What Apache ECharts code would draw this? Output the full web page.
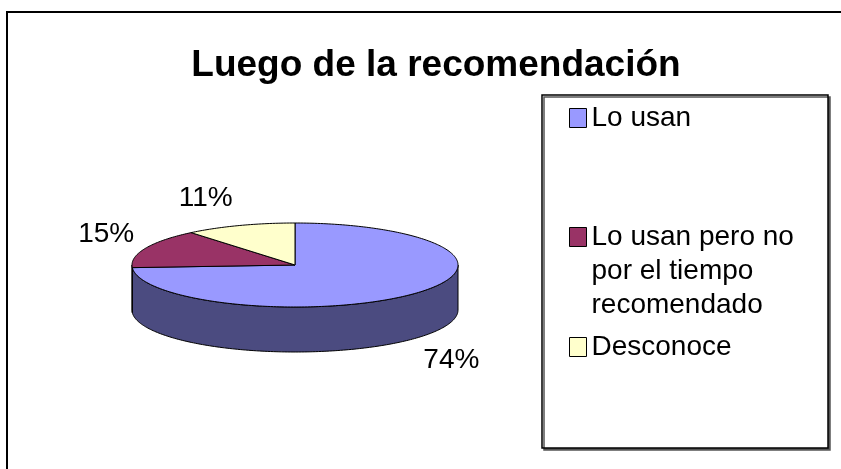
<!DOCTYPE html>
<html>
<head>
<meta charset="utf-8">
<script src="https://cdn.jsdelivr.net/npm/echarts@6/dist/echarts.min.js"></script>
<style>
  html, body { margin: 0; padding: 0; background: #fff; }
  #chart { width: 841px; height: 469px; }
</style>
</head>
<body>
<div id="chart"></div>
<script>
// Survey answers after the recommendation (percent of respondents)
const categories = ['Lo usan', 'Lo usan pero no por el tiempo recomendado', 'Desconoce'];
const shares = [74, 15, 11];
const topColors = ['#9999FF', '#993366', '#FFFFCC'];
const sideColors = ['#4B4B80', '#4C1933', '#808066'];

// Layout of the tilted pie: centre of the top face, radii and thickness
const CX = 295, CY = 265, RX = 163, RY = 42, DEPTH = 45;
const FONT = '"Liberation Sans", Arial, sans-serif';

const total = shares.reduce((a, b) => a + b, 0);

// angle measured clockwise from 12 o'clock
function pt(theta, dy) {
  return [CX + RX * Math.sin(theta), CY - RY * Math.cos(theta) + dy];
}
function arc(a, b, dy) {
  const pts = [];
  const n = Math.max(2, Math.ceil(Math.abs(b - a) / (Math.PI / 180)));
  for (let i = 0; i <= n; i++) pts.push(pt(a + (b - a) * i / n, dy));
  return pts;
}

function sliceRenderer(k) {
  return function (params, api) {
    let before = 0;
    for (let j = 0; j < k; j++) before += shares[j];
    const v = api.value(0);
    const a0 = before / total * 2 * Math.PI;
    const a1 = (before + v) / total * 2 * Math.PI;
    const children = [];

    // front wall (only the part facing the viewer)
    const lo = Math.max(a0, Math.PI / 2), hi = Math.min(a1, 3 * Math.PI / 2);
    if (hi > lo) {
      const wall = arc(lo, hi, 0).concat(arc(hi, lo, DEPTH));
      children.push({
        type: 'polygon',
        shape: { points: wall },
        style: { fill: sideColors[k], stroke: '#000', lineWidth: 1 }
      });
    }

    // top face
    children.push({
      type: 'polygon',
      shape: { points: [[CX, CY]].concat(arc(a0, a1, 0)) },
      style: { fill: topColors[k], stroke: '#000', lineWidth: 1 }
    });

    // percentage label outside the slice
    const mid = (a0 + a1) / 2;
    const ux = Math.sin(mid), uy = -Math.cos(mid);
    const p = pt(mid, uy > 0 ? DEPTH : 0);
    const lx = p[0] + 9 * ux + 31 * Math.sign(ux);
    const ly = p[1] + 24 * uy + 5 * Math.sign(uy);
    children.push({
      type: 'text',
      style: {
        text: Math.round(v / total * 100) + '%',
        x: lx, y: ly,
        align: 'center', verticalAlign: 'middle',
        fontSize: 28, fontFamily: FONT, fill: '#000'
      }
    });

    return { type: 'group', children: children };
  };
}

const legendTops = [101, 152, 330];
const legendBase = {
  left: 569,
  orient: 'vertical',
  padding: 0,
  icon: 'rect',
  itemWidth: 17,
  itemHeight: 19,
  itemStyle: { borderColor: '#000', borderWidth: 1 },
  selectedMode: false,
  z: 5,
  textStyle: {
    fontSize: 28, fontFamily: FONT, color: '#000',
    width: 232, overflow: 'break', lineHeight: 34
  }
};

const option = {
  backgroundColor: '#fff',
  animation: false,
  title: {
    text: 'Luego de la recomendación',
    left: 431,
    top: 42,
    textAlign: 'center',
    textStyle: { fontSize: 37, fontWeight: 'bold', fontFamily: FONT, color: '#000' }
  },
  legend: categories.map((name, k) => Object.assign({}, legendBase, {
    top: legendTops[k],
    data: [name],
    // the wrapped entry keeps its marker beside the first line:
    // two blank lines above balance the two wrapped lines below
    formatter: k === 1 ? (n => '\n\n' + n) : (n => n)
  })),
  graphic: [
    {
      type: 'rect', z: 0,
      shape: { x: 7, y: 12, width: 900, height: 500 },
      style: { fill: 'none', stroke: '#000', lineWidth: 2 }
    },
    {
      type: 'rect', z: 1,
      shape: { x: 542, y: 95, width: 286, height: 353 },
      style: {
        fill: '#fff', stroke: '#000', lineWidth: 1.5,
        shadowColor: '#555', shadowOffsetX: 2, shadowOffsetY: 2, shadowBlur: 0
      }
    }
  ],
  series: categories.map((name, k) => ({
    type: 'custom',
    name: name,
    coordinateSystem: 'none',
    itemStyle: { color: topColors[k] },
    data: [shares[k]],
    renderItem: sliceRenderer(k),
    z: 3
  }))
};

const chart = echarts.init(document.getElementById('chart'), null, { renderer: 'canvas' });
chart.setOption(option);
</script>
</body>
</html>
